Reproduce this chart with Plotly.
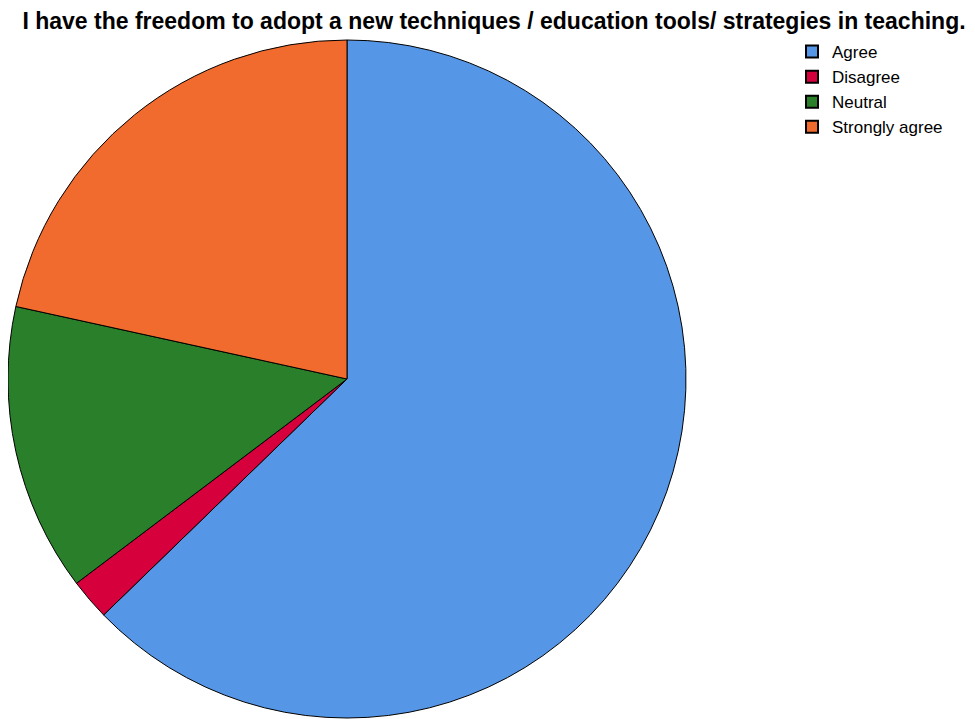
import plotly.graph_objects as go

categories = ["Agree", "Disagree", "Neutral", "Strongly agree"]
counts = [32, 1, 7, 11]
colors = ["#5596E6", "#D5003C", "#2A7F2A", "#F26B2E"]

W, H = 975, 719
cx, cy, r = 339, 371, 339

fig = go.Figure(go.Pie(
    labels=categories,
    values=counts,
    sort=False,
    direction="clockwise",
    rotation=0,
    textinfo="none",
    hoverinfo="label+value+percent",
    marker=dict(colors=colors, line=dict(color="#000000", width=1)),
    domain=dict(x=[(cx - r) / W, (cx + r) / W], y=[(H - cy - r) / H, (H - cy + r) / H]),
))

fig.update_layout(
    width=W, height=H,
    margin=dict(l=0, r=0, t=0, b=0),
    paper_bgcolor="white",
    plot_bgcolor="white",
    title=dict(
        text="<b>I have the freedom to adopt a new techniques / education tools/ strategies in teaching.</b>",
        x=486 / W, xanchor="center", xref="paper",
        y=1 - 12.5 / H, yanchor="middle", yref="container",
        font=dict(family="Liberation Sans, Arial, sans-serif", size=23, color="#000000"),
    ),
    legend=dict(
        x=784 / W, xanchor="left", y=1 - 26 / H, yanchor="top",
        font=dict(family="Liberation Sans, Arial, sans-serif", size=17, color="#000000"),
        itemsizing="constant",
        tracegroupgap=0,
        bgcolor="rgba(0,0,0,0)",
    ),
)

fig.write_html("out.html")
